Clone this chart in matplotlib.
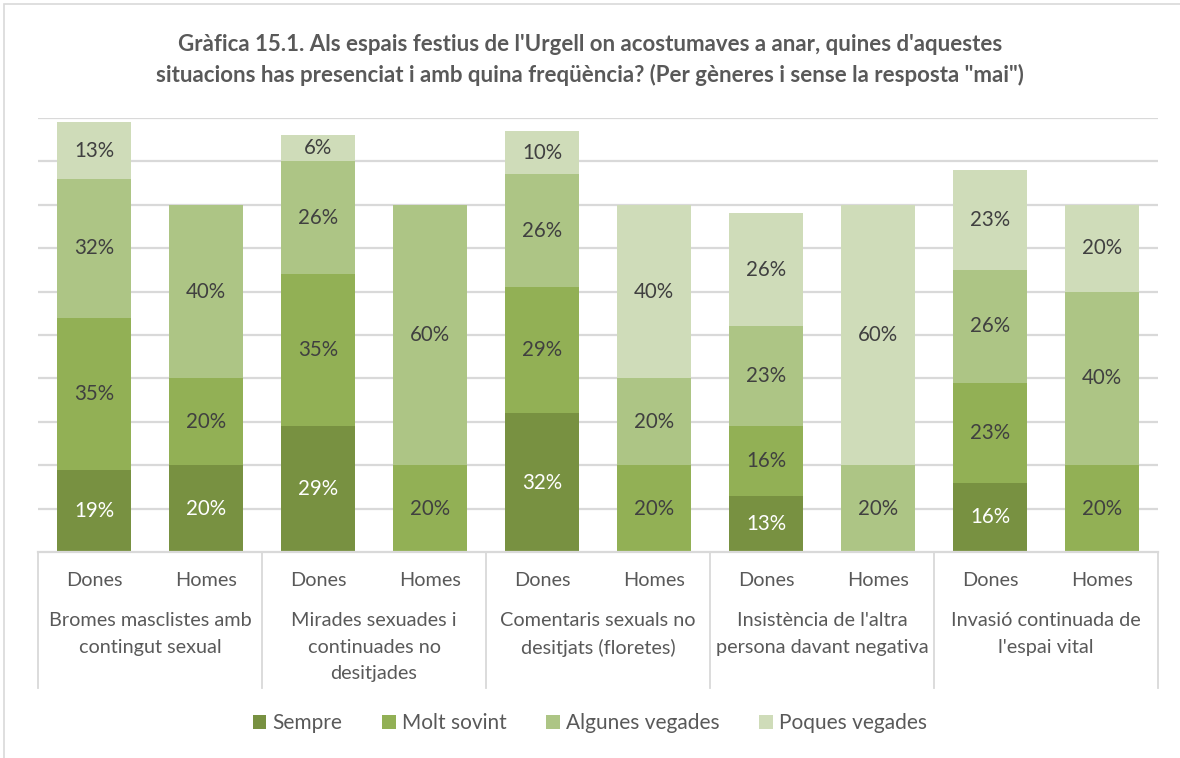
import matplotlib.pyplot as plt
import matplotlib.patches as mpatches
import numpy as np

plt.rcParams['font.family'] = ['Lato', 'DejaVu Sans']

# === dades ===
categories = [
    "Bromes masclistes amb\ncontingut sexual",
    "Mirades sexuades i\ncontinuades no\ndesitjades",
    "Comentaris sexuals no\ndesitjats (floretes)",
    "Insistència de l'altra\npersona davant negativa",
    "Invasió continuada de\nl'espai vital",
]
genders = ["Dones", "Homes"]
series_names = ["Sempre", "Molt sovint", "Algunes vegades", "Poques vegades"]

# ordre: Dones, Homes per a cada categoria
sempre = [19, 20, 29, 0, 32, 0, 13, 0, 16, 0]
molt_sovint = [35, 20, 35, 20, 29, 20, 16, 0, 23, 20]
algunes_vegades = [32, 40, 26, 60, 26, 20, 23, 20, 26, 40]
poques_vegades = [13, 0, 6, 0, 10, 40, 26, 60, 23, 20]

colors = ["#789141", "#92b055", "#adc585", "#cfdcb9"]
label_colors = ["white", "#404040", "#404040", "#404040"]

# === figura ===
fig = plt.figure(figsize=(11.8, 7.58), dpi=100)
ax = fig.add_axes([38 / 1180, 1 - 552 / 758, 1120 / 1180, 434 / 758])

x = np.arange(len(sempre)) + 0.5
bottom = np.zeros(len(sempre))
series = [sempre, molt_sovint, algunes_vegades, poques_vegades]

for gl in range(10, 101, 10):
    ax.axhline(gl, color="#d9d9d9", lw=1.6, zorder=0)

for vals, name, c, lc in zip(series, series_names, colors, label_colors):
    vals = np.array(vals, dtype=float)
    ax.bar(x, vals, width=0.66, bottom=bottom, color=c, label=name, zorder=2)
    for xi, b, v in zip(x, bottom, vals):
        if v > 0:
            ax.text(xi, b + v / 2, f"{int(v)}%", ha="center", va="center",
                    fontsize=14.8, color=lc, zorder=3)
    bottom += vals

ax.set_xlim(0, 10)
ax.set_ylim(0, 100)
ax.set_xticks([])
ax.set_yticks([])
for s in ["top", "right", "left"]:
    ax.spines[s].set_visible(False)
ax.spines["bottom"].set_color("#d9d9d9")
ax.spines["bottom"].set_linewidth(1.6)

# etiquetes de l'eix x
tr = ax.get_xaxis_transform()
for i, xi in enumerate(x):
    ax.text(xi, -29 / 434, genders[i % 2], transform=tr, ha="center", va="center",
            fontsize=14.3, color="#595959")
for g, cat in enumerate(categories):
    ax.text(2 * g + 1, -60 / 434, cat, transform=tr, ha="center", va="top",
            fontsize=14.3, color="#595959", linespacing=1.68)
for g in range(6):
    ax.plot([2 * g, 2 * g], [0, -136 / 434], transform=tr, color="#d9d9d9",
            lw=1.3, clip_on=False)

fig.text(0.5, 1 - 60 / 758,
         "Gràfica 15.1. Als espais festius de l'Urgell on acostumaves a anar, quines d'aquestes\n"
         "situacions has presenciat i amb quina freqüència? (Per gèneres i sense la resposta \"mai\")",
         ha="center", va="center", fontsize=16, fontweight="bold", color="#595959",
         linespacing=1.55)

fig.legend(loc="center", bbox_to_anchor=(0.5, 1 - 723 / 758), ncol=4, frameon=False,
           fontsize=15, handlelength=0.65, handleheight=0.65, handletextpad=0.3,
           columnspacing=1.9, labelcolor="#595959")

fig.patches.append(mpatches.Rectangle((4 / 1180, -0.01), 1.02, 1 - 4 / 758 + 0.01,
                                      transform=fig.transFigure, fill=False,
                                      edgecolor="#d9d9d9", lw=1.2))

fig.savefig("out.png", dpi=100)
